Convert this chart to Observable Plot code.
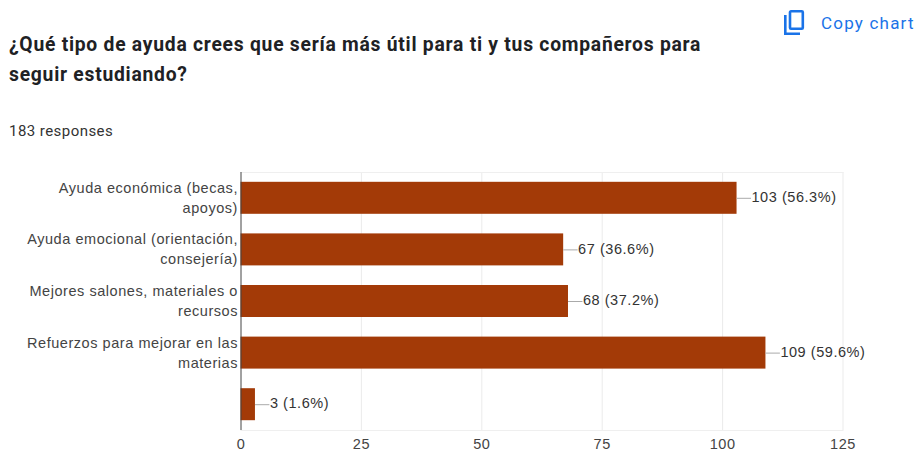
<!DOCTYPE html>
<html>
<head>
<meta charset="utf-8">
<script src="https://cdn.jsdelivr.net/npm/d3@7"></script>
<script src="https://cdn.jsdelivr.net/npm/@observablehq/plot@0.6"></script>
<style>
html,body{margin:0;padding:0;background:#fff;overflow:hidden}
#page{position:relative;width:918px;height:451px}
#head{position:relative;height:165px;width:918px}
h1{position:absolute;left:9px;top:30px;margin:0;font:700 19.3px/30px Roboto,sans-serif;letter-spacing:.75px;color:#202124;width:730px}
#resp{position:absolute;left:9px;top:122px;font:400 15px/18px Roboto,sans-serif;letter-spacing:.45px;color:#333}
#copy{position:absolute;left:821px;top:13px;font:400 17px/20px Roboto,sans-serif;letter-spacing:1.2px;color:#1a73e8;white-space:nowrap}
#icon{position:absolute;left:781px;top:8px}
#chart svg{display:block}
</style>
</head>
<body>
<div id="page">
<div id="head">
<svg id="icon" width="28" height="30" viewBox="0 0 28 30" fill="none" stroke="#1a73e8" stroke-width="2.6"><rect x="9" y="3.3" width="12.8" height="17.4" rx="1"/><path d="M4.3 7V25.7H19"/></svg>
<div id="copy">Copy chart</div>
<h1>¿Qué tipo de ayuda crees que sería más útil para ti y tus compañeros para seguir estudiando?</h1>
<div id="resp">183 responses</div>
</div>
<div id="chart"></div>
</div>
<script>
const categories = [
  "Ayuda económica (becas,\napoyos)",
  "Ayuda emocional (orientación,\nconsejería)",
  "Mejores salones, materiales o\nrecursos",
  "Refuerzos para mejorar en las\nmaterias",
  " "
];
const counts = [103, 67, 68, 109, 3];
const percents = ["56.3%", "36.6%", "37.2%", "59.6%", "1.6%"];
const xTicks = [0, 25, 50, 75, 100, 125];
const barColor = "#a33a07";
const connectorUnits = 3;

const rows = categories.map((c, i) => ({category: c, count: counts[i], pct: percents[i]}));
const fontFamily = "'Liberation Sans', Arial, sans-serif";

const plot = Plot.plot({
  width: 918,
  height: 286,
  marginTop: 7,
  marginBottom: 21,
  marginLeft: 240.5,
  marginRight: 75.5,
  style: {fontFamily, fontSize: "14.5px", letterSpacing: "0.55px", background: "#fff", color: "#444"},
  x: {domain: [0, 125], ticks: xTicks},
  y: {domain: categories, paddingInner: 0.38, paddingOuter: 0.19, align: 0.5, round: false},
  marks: [
    Plot.ruleX(xTicks.slice(1), {stroke: "#ebebeb", strokeWidth: 1}),
    Plot.frame({stroke: "#efefef", anchor: "top"}),
    Plot.frame({stroke: "#efefef", anchor: "bottom"}),
    Plot.barX(rows, {y: "category", x: "count", fill: barColor}),
    Plot.ruleY(rows, {y: "category", x1: "count", x2: d => d.count + connectorUnits, stroke: "#aaa", strokeWidth: 1}),
    Plot.text(rows, {
      y: "category",
      x: d => d.count + connectorUnits,
      text: d => `${d.count} (${d.pct})`,
      textAnchor: "start",
      dy: -1,
      fill: "#333",
      fontSize: 14.5
    }),
    Plot.ruleX([0], {stroke: "#444", strokeWidth: 1}),
    Plot.axisY({
      anchor: "left",
      tickSize: 0,
      tickPadding: 3,
      label: null,
      lineHeight: 1.38,
      dy: -2,
      fill: "#444",
      fontSize: 14.5
    }),
    Plot.axisX({
      anchor: "bottom",
      ticks: xTicks,
      tickSize: 0,
      tickPadding: 8,
      label: null,
      fill: "#444",
      fontSize: 14.5
    })
  ]
});
document.getElementById("chart").appendChild(plot);
</script>
</body>
</html>
